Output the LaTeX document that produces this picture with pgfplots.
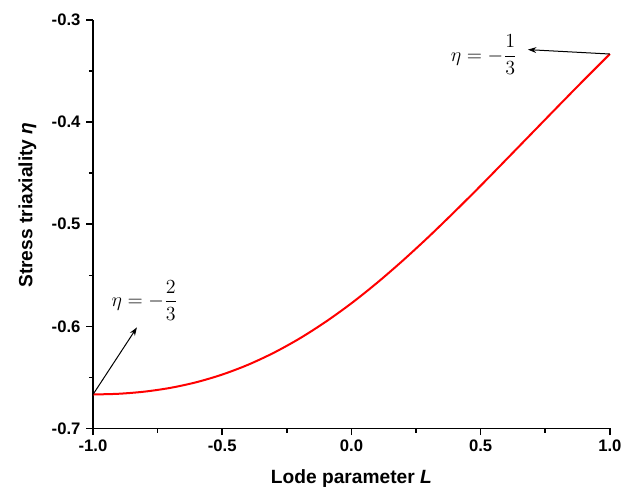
\documentclass[border=0pt]{standalone}
\usepackage{amsmath}
\usepackage{fontspec}
\setmainfont{Liberation Sans}
\usepackage{pgfplots}
\pgfplotsset{compat=1.18}
\usetikzlibrary{arrows.meta}

\begin{document}
\begin{tikzpicture}
\begin{axis}[
    scale only axis,
    width=310pt,
    height=245pt,
    xmin=-1, xmax=1,
    ymin=-0.7, ymax=-0.3,
    axis lines*=left,
    axis line style={line width=1pt},
    tick align=outside,
    tick style={black, line width=0.9pt},
    major tick length=4pt,
    minor tick length=2.5pt,
    xtick={-1,-0.5,0,0.5,1},
    ytick={-0.7,-0.6,-0.5,-0.4,-0.3},
    minor x tick num=1,
    minor y tick num=1,
    /pgf/number format/assume math mode=true,
    /pgf/number format/fixed,
    /pgf/number format/fixed zerofill,
    /pgf/number format/precision=1,
    tick label style={font=\bfseries},
    xticklabel style={yshift=0.8pt},
    label style={font=\fontsize{11.5pt}{13pt}\selectfont\bfseries},
    xlabel={Lode parameter \textit{L}},
    ylabel={Stress triaxiality \textit{η}},
    xlabel style={at={(axis description cs:0.5,-0.122)}, anchor=center},
    ylabel style={at={(axis description cs:-0.127,0.547)}, anchor=center},
    clip=false,
]

\addplot[red, line width=1.2pt, smooth] coordinates {
    (-1.0, -0.6667)
    (-0.9, -0.6660)
    (-0.8, -0.6639)
    (-0.7, -0.6602)
    (-0.6, -0.6547)
    (-0.5, -0.6472)
    (-0.4, -0.6376)
    (-0.3, -0.6258)
    (-0.2, -0.6118)
    (-0.1, -0.5956)
    (0.0, -0.5774)
    (0.1, -0.5572)
    (0.2, -0.5353)
    (0.3, -0.5120)
    (0.4, -0.4875)
    (0.5, -0.4623)
    (0.6, -0.4364)
    (0.7, -0.4104)
    (0.8, -0.3844)
    (0.9, -0.3586)
    (1.0, -0.3333)
};

\draw[-{Stealth[length=5pt,width=3.5pt]}, line width=0.6pt] (axis cs:-1,-0.6667) -- (axis cs:-0.83,-0.601);
\draw[-{Stealth[length=5pt,width=3.5pt]}, line width=0.6pt] (axis cs:1,-0.3333) -- (axis cs:0.683,-0.329);
\node at (axis cs:-0.80,-0.5745) {\large $\eta=-\dfrac{2}{3}$};
\node at (axis cs:0.513,-0.334) {\large $\eta=-\dfrac{1}{3}$};

\path (rel axis cs:-0.18,-0.145) rectangle (rel axis cs:1.039,1.049);
\end{axis}
\end{tikzpicture}
\end{document}
